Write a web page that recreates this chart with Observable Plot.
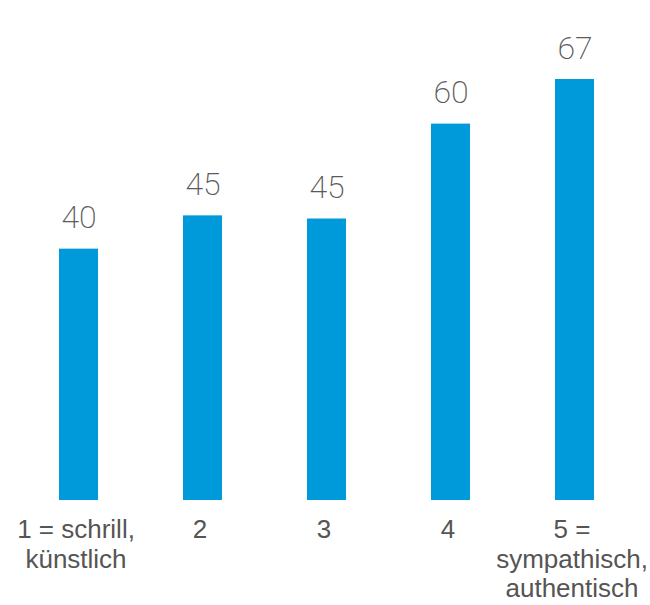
<!DOCTYPE html>
<html>
<head>
<meta charset="utf-8">
<script src="https://cdn.jsdelivr.net/npm/d3@7"></script>
<script src="https://cdn.jsdelivr.net/npm/@observablehq/plot@0.6"></script>
<style>
  html, body { margin: 0; padding: 0; background: #ffffff; }
  #chart svg { display: block; }
</style>
</head>
<body>
<div id="chart"></div>
<script>
const categories = ["1", "2", "3", "4", "5"];
const categoryLabels = ["1 = schrill,\nkünstlich", "2", "3", "4", "5 =\nsympathisch,\nauthentisch"];
const values = [40, 45.3, 44.8, 59.9, 67];

const data = categories.map((c, i) => ({cat: c, label: categoryLabels[i], value: values[i]}));

const chart = Plot.plot({
  width: 650,
  height: 605,
  marginLeft: 15,
  marginRight: 13,
  marginTop: 79,
  marginBottom: 105,
  style: {background: "#ffffff", overflow: "visible"},
  x: {domain: categories, paddingInner: 0.6865, paddingOuter: 0.34325, axis: null},
  y: {domain: [0, 67], axis: null},
  marks: [
    Plot.barY(data, {x: "cat", y: "value", fill: "#0099d9"}),
    Plot.text(data, {
      x: "cat", y: "value",
      text: d => d3.format(".0f")(d.value),
      lineAnchor: "bottom",
      dy: -21,
      fontSize: 32,
      fontFamily: "Roboto",
      fontWeight: 200,
      fill: "#5a5a5a"
    }),
    Plot.text(data, {
      x: "cat",
      frameAnchor: "bottom",
      text: "label",
      lineAnchor: "top",
      lineHeight: 29.5 / 26,
      dx: -3,
      dy: 17,
      fontSize: 26,
      fontFamily: "Liberation Sans, Arial, sans-serif",
      fill: "#555555"
    })
  ]
});
document.getElementById("chart").append(chart);
</script>
</body>
</html>
